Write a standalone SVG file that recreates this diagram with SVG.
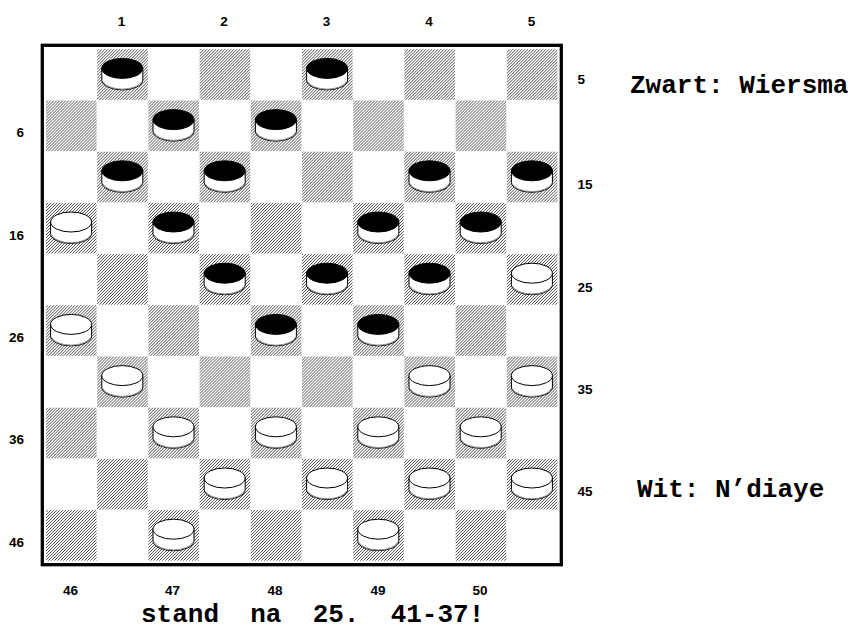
<svg xmlns="http://www.w3.org/2000/svg" xmlns:xlink="http://www.w3.org/1999/xlink" width="856" height="630" viewBox="0 0 856 630">
<style>
.lbl{font-family:"Liberation Sans",Arial,sans-serif;font-weight:bold;font-size:13.5px;fill:#000}
.big{font-family:"Liberation Mono","Courier New",monospace;font-weight:bold;font-size:26px;fill:#000}
.sq{fill:url(#hatch)}
.side{fill:#fff;stroke:#000;stroke-width:1}
</style>
<defs>
<pattern id="hatch" patternUnits="userSpaceOnUse" width="3" height="3">
<rect width="3" height="3" fill="#fff"/>
<path d="M-0.5,3.5 L3.5,-0.5 M-1.5,1.5 L1.5,-1.5 M1.5,4.5 L4.5,1.5" stroke="#3a3a3a" stroke-width="0.9"/>
</pattern>
<g id="rowA">
<rect class="sq" x="97.2" y="0" width="50.6" height="50.6"/>
<rect class="sq" x="199.6" y="0" width="50.6" height="50.6"/>
<rect class="sq" x="302" y="0" width="50.6" height="50.6"/>
<rect class="sq" x="404.4" y="0" width="50.6" height="50.6"/>
<rect class="sq" x="506.8" y="0" width="50.6" height="50.6"/>
</g>
<g id="rowB">
<rect class="sq" x="46" y="0" width="50.6" height="50.6"/>
<rect class="sq" x="148.4" y="0" width="50.6" height="50.6"/>
<rect class="sq" x="250.8" y="0" width="50.6" height="50.6"/>
<rect class="sq" x="353.2" y="0" width="50.6" height="50.6"/>
<rect class="sq" x="455.6" y="0" width="50.6" height="50.6"/>
</g>
<g id="bp">
<path class="side" d="M-20.5,-6.5 V5 A20.5,10 0 0 0 20.5,5 V-6.5 Z"/>
<path d="M-19.5,6.5 A20,10 0 0 0 19.5,6.5" fill="none" stroke="#888" stroke-width="1"/>
<ellipse cx="0" cy="-6.5" rx="20.5" ry="10" fill="#000" stroke="#000" stroke-width="1"/>
</g>
<g id="wp">
<path class="side" d="M-20.5,-6.5 V5 A20.5,10 0 0 0 20.5,5 V-6.5 Z"/>
<path d="M-19.5,6.5 A20,10 0 0 0 19.5,6.5" fill="none" stroke="#888" stroke-width="1"/>
<ellipse cx="0" cy="-6.5" rx="20.5" ry="10" fill="#fff" stroke="#000" stroke-width="1"/>
</g>
</defs>
<rect width="856" height="630" fill="#fff"/>
<g id="board">
<use xlink:href="#rowA" href="#rowA" y="49.3"/>
<use xlink:href="#rowB" href="#rowB" y="100.5"/>
<use xlink:href="#rowA" href="#rowA" y="151.7"/>
<use xlink:href="#rowB" href="#rowB" y="202.9"/>
<use xlink:href="#rowA" href="#rowA" y="254.1"/>
<use xlink:href="#rowB" href="#rowB" y="305.3"/>
<use xlink:href="#rowA" href="#rowA" y="356.5"/>
<use xlink:href="#rowB" href="#rowB" y="407.7"/>
<use xlink:href="#rowA" href="#rowA" y="458.9"/>
<use xlink:href="#rowB" href="#rowB" y="510.1"/>
<rect x="42.3" y="45.3" width="519" height="519.4" fill="none" stroke="#000" stroke-width="3.3"/>
</g>
<g id="black-pieces">
<use href="#bp" x="122.3" y="74.9"/>
<use href="#bp" x="327.1" y="74.9"/>
<use href="#bp" x="173.5" y="126.1"/>
<use href="#bp" x="275.9" y="126.1"/>
<use href="#bp" x="122.3" y="177.3"/>
<use href="#bp" x="224.7" y="177.3"/>
<use href="#bp" x="429.5" y="177.3"/>
<use href="#bp" x="531.9" y="177.3"/>
<use href="#bp" x="173.5" y="228.5"/>
<use href="#bp" x="378.3" y="228.5"/>
<use href="#bp" x="480.7" y="228.5"/>
<use href="#bp" x="224.7" y="279.7"/>
<use href="#bp" x="327.1" y="279.7"/>
<use href="#bp" x="429.5" y="279.7"/>
<use href="#bp" x="275.9" y="330.9"/>
<use href="#bp" x="378.3" y="330.9"/>
</g>
<g id="white-pieces">
<use href="#wp" x="71.1" y="228.5"/>
<use href="#wp" x="531.9" y="279.7"/>
<use href="#wp" x="71.1" y="330.9"/>
<use href="#wp" x="122.3" y="382.1"/>
<use href="#wp" x="429.5" y="382.1"/>
<use href="#wp" x="531.9" y="382.1"/>
<use href="#wp" x="173.5" y="433.3"/>
<use href="#wp" x="275.9" y="433.3"/>
<use href="#wp" x="378.3" y="433.3"/>
<use href="#wp" x="480.7" y="433.3"/>
<use href="#wp" x="224.7" y="484.5"/>
<use href="#wp" x="327.1" y="484.5"/>
<use href="#wp" x="429.5" y="484.5"/>
<use href="#wp" x="531.9" y="484.5"/>
<use href="#wp" x="173.5" y="535.7"/>
<use href="#wp" x="378.3" y="535.7"/>
</g>
<g id="top-labels" class="lbl" text-anchor="middle">
<text x="121.5" y="26">1</text>
<text x="224" y="26">2</text>
<text x="326.5" y="26">3</text>
<text x="429" y="26">4</text>
<text x="531.5" y="26">5</text>
</g>
<g id="left-labels" class="lbl" text-anchor="end">
<text x="24" y="137">6</text>
<text x="24" y="239.5">16</text>
<text x="24" y="342">26</text>
<text x="24" y="444">36</text>
<text x="24" y="546.5">46</text>
</g>
<g id="right-labels" class="lbl">
<text x="577.5" y="84">5</text>
<text x="577.5" y="189.3">15</text>
<text x="577.5" y="291.7">25</text>
<text x="577.5" y="394">35</text>
<text x="577.5" y="496">45</text>
</g>
<g id="bottom-labels" class="lbl" text-anchor="middle">
<text x="70.5" y="595">46</text>
<text x="172.5" y="595">47</text>
<text x="275" y="595">48</text>
<text x="378" y="595">49</text>
<text x="480" y="595">50</text>
</g>
<g id="captions" class="big">
<text x="630" y="93">Zwart: Wiersma</text>
<text x="637" y="496.5">Wit: N’diaye</text>
<text x="141" y="621.5" xml:space="preserve">stand  na  25.  41-37!</text>
</g>
</svg>
